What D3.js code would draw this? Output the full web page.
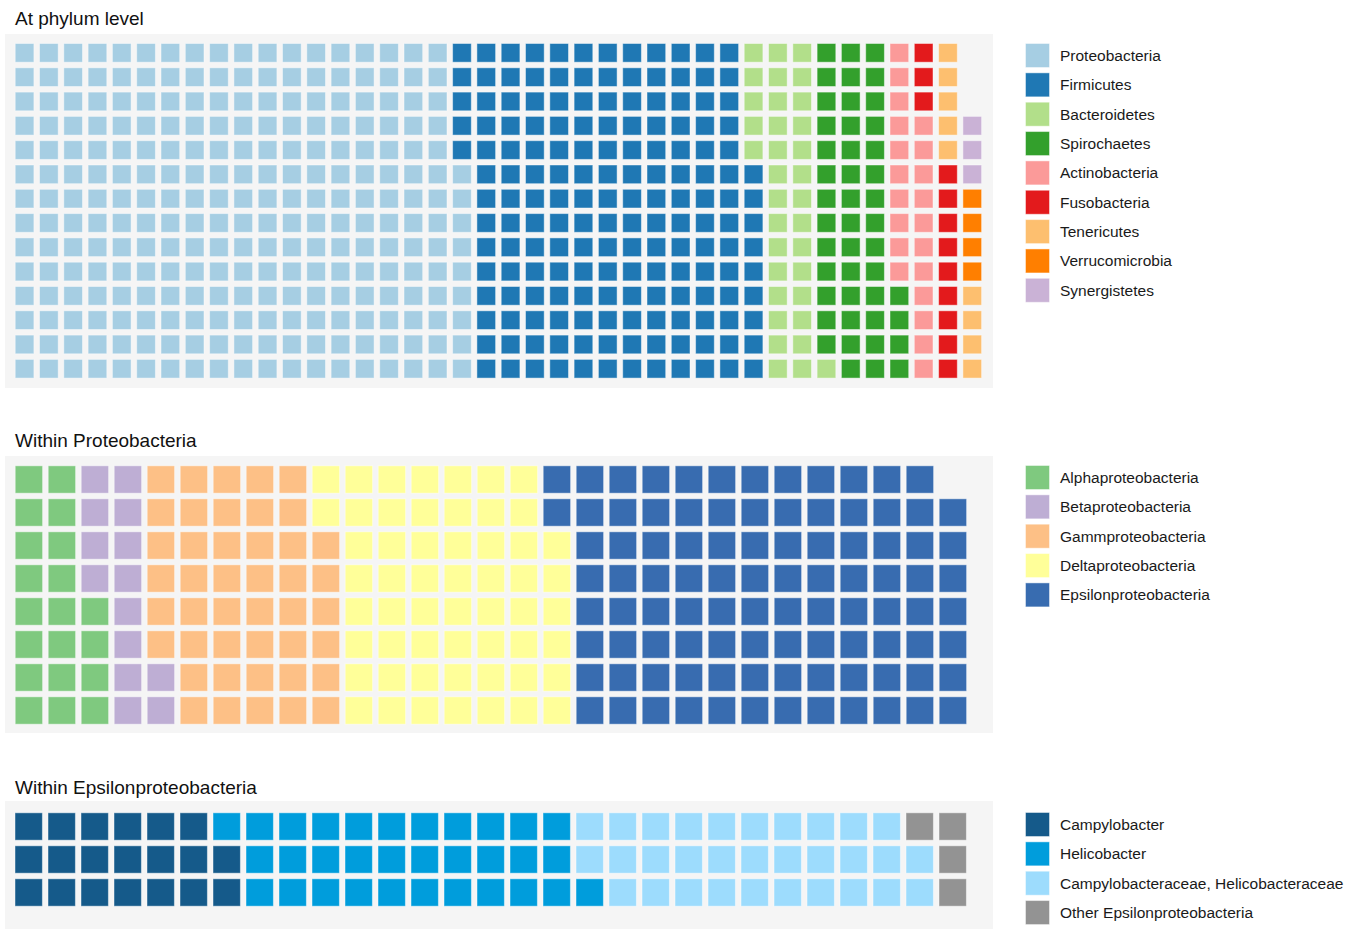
<!DOCTYPE html>
<html>
<head>
<meta charset="utf-8">
<script src="https://cdn.jsdelivr.net/npm/d3@7"></script>
<style>
  html, body { margin: 0; padding: 0; background: #fff; }
  svg { display: block; font-family: "Liberation Sans", Arial, sans-serif; }
</style>
</head>
<body>
<div id="chart"></div>
<script>
// phylum level
const phylaNames = ['Proteobacteria', 'Firmicutes', 'Bacteroidetes', 'Spirochaetes', 'Actinobacteria',
  'Fusobacteria', 'Tenericutes', 'Verrucomicrobia', 'Synergistetes'];
const phylaCounts = [261, 168, 34, 45, 21, 12, 9, 4, 3];
const phylaColors = ['#a6cee3', '#1f78b4', '#b2df8a', '#33a02c', '#fb9a99', '#e31a1c', '#fdbf6f', '#ff7f00', '#cab2d6'];

// within Proteobacteria
const proteoNames = ['Alphaproteobacteria', 'Betaproteobacteria', 'Gammproteobacteria', 'Deltaproteobacteria', 'Epsilonproteobacteria'];
const proteoCounts = [20, 14, 44, 56, 97];
const proteoColors = ['#7fc97f', '#beaed4', '#fdc086', '#ffff99', '#386cb0'];

// within Epsilonproteobacteria
const epsNames = ['Campylobacter', 'Helicobacter', 'Campylobacteraceae, Helicobacteraceae', 'Other Epsilonproteobacteria'];
const epsCounts = [20, 32, 31, 4];
const epsColors = ['#155a8a', '#009ddc', '#9ddcfd', '#939393'];

const W = 1360, H = 929;
const GAP = 4.6;

const svg = d3.select('#chart').append('svg').attr('width', W).attr('height', H);
svg.append('rect').attr('width', W).attr('height', H).attr('fill', '#fff');

// fill column by column, bottom to top
function buildCells(names, counts, nrow) {
  const cells = [];
  let i = 0;
  names.forEach((name, k) => {
    for (let j = 0; j < counts[k]; j++, i++) {
      cells.push({ name, col: Math.floor(i / nrow), row: nrow - 1 - (i % nrow) });
    }
  });
  return cells;
}

function drawWaffle(opt) {
  const { title, titleY, bg, x0, y0, step, ncol, nrow, names, counts, colors, legendY } = opt;
  const color = d3.scaleOrdinal().domain(names).range(colors);
  const g = svg.append('g');

  g.append('text').attr('x', 15).attr('y', titleY)
    .attr('font-size', '19px').attr('fill', '#111').text(title);

  g.append('rect').attr('x', bg[0]).attr('y', bg[1]).attr('width', bg[2]).attr('height', bg[3])
    .attr('fill', '#f5f5f5');

  const x = d3.scaleBand().domain(d3.range(ncol)).range([x0, x0 + ncol * step]);
  const y = d3.scaleBand().domain(d3.range(nrow)).range([y0, y0 + nrow * step]);

  g.append('g').selectAll('rect')
    .data(buildCells(names, counts, nrow)).join('rect')
    .attr('x', d => x(d.col) + GAP / 2 + 0.5)
    .attr('y', d => y(d.row) + GAP / 2 + 0.5)
    .attr('width', x.bandwidth() - GAP - 1)
    .attr('height', y.bandwidth() - GAP - 1)
    .attr('fill', d => color(d.name))
    .attr('stroke', 'rgba(255,255,255,0.45)').attr('stroke-width', 1);

  const ly = d3.scaleBand().domain(names).range([legendY, legendY + names.length * 29.35]);
  const lg = g.append('g').selectAll('g').data(names).join('g')
    .attr('transform', d => `translate(1025,${ly(d)})`);
  lg.append('rect').attr('x', 0.5).attr('y', 0.5).attr('width', 24).attr('height', 24)
    .attr('fill', d => color(d)).attr('stroke', 'rgba(255,255,255,0.45)').attr('stroke-width', 1);
  lg.append('text').attr('x', 35).attr('y', 12.5).attr('dy', '0.35em')
    .attr('font-size', '15.5px').attr('fill', '#1a1a1a').text(d => d);
}

drawWaffle({
  title: 'At phylum level', titleY: 25, bg: [5, 34, 988, 354],
  x0: 12.4, y0: 40.7, step: 24.3, ncol: 40, nrow: 14,
  names: phylaNames, counts: phylaCounts, colors: phylaColors, legendY: 43
});

drawWaffle({
  title: 'Within Proteobacteria', titleY: 447, bg: [5, 456, 988, 277],
  x0: 12.4, y0: 463, step: 33, ncol: 29, nrow: 8,
  names: proteoNames, counts: proteoCounts, colors: proteoColors, legendY: 465
});

drawWaffle({
  title: 'Within Epsilonproteobacteria', titleY: 794, bg: [5, 801, 988, 140],
  x0: 12.2, y0: 810, step: 33, ncol: 29, nrow: 3,
  names: epsNames, counts: epsCounts, colors: epsColors, legendY: 812
});
</script>
</body>
</html>
